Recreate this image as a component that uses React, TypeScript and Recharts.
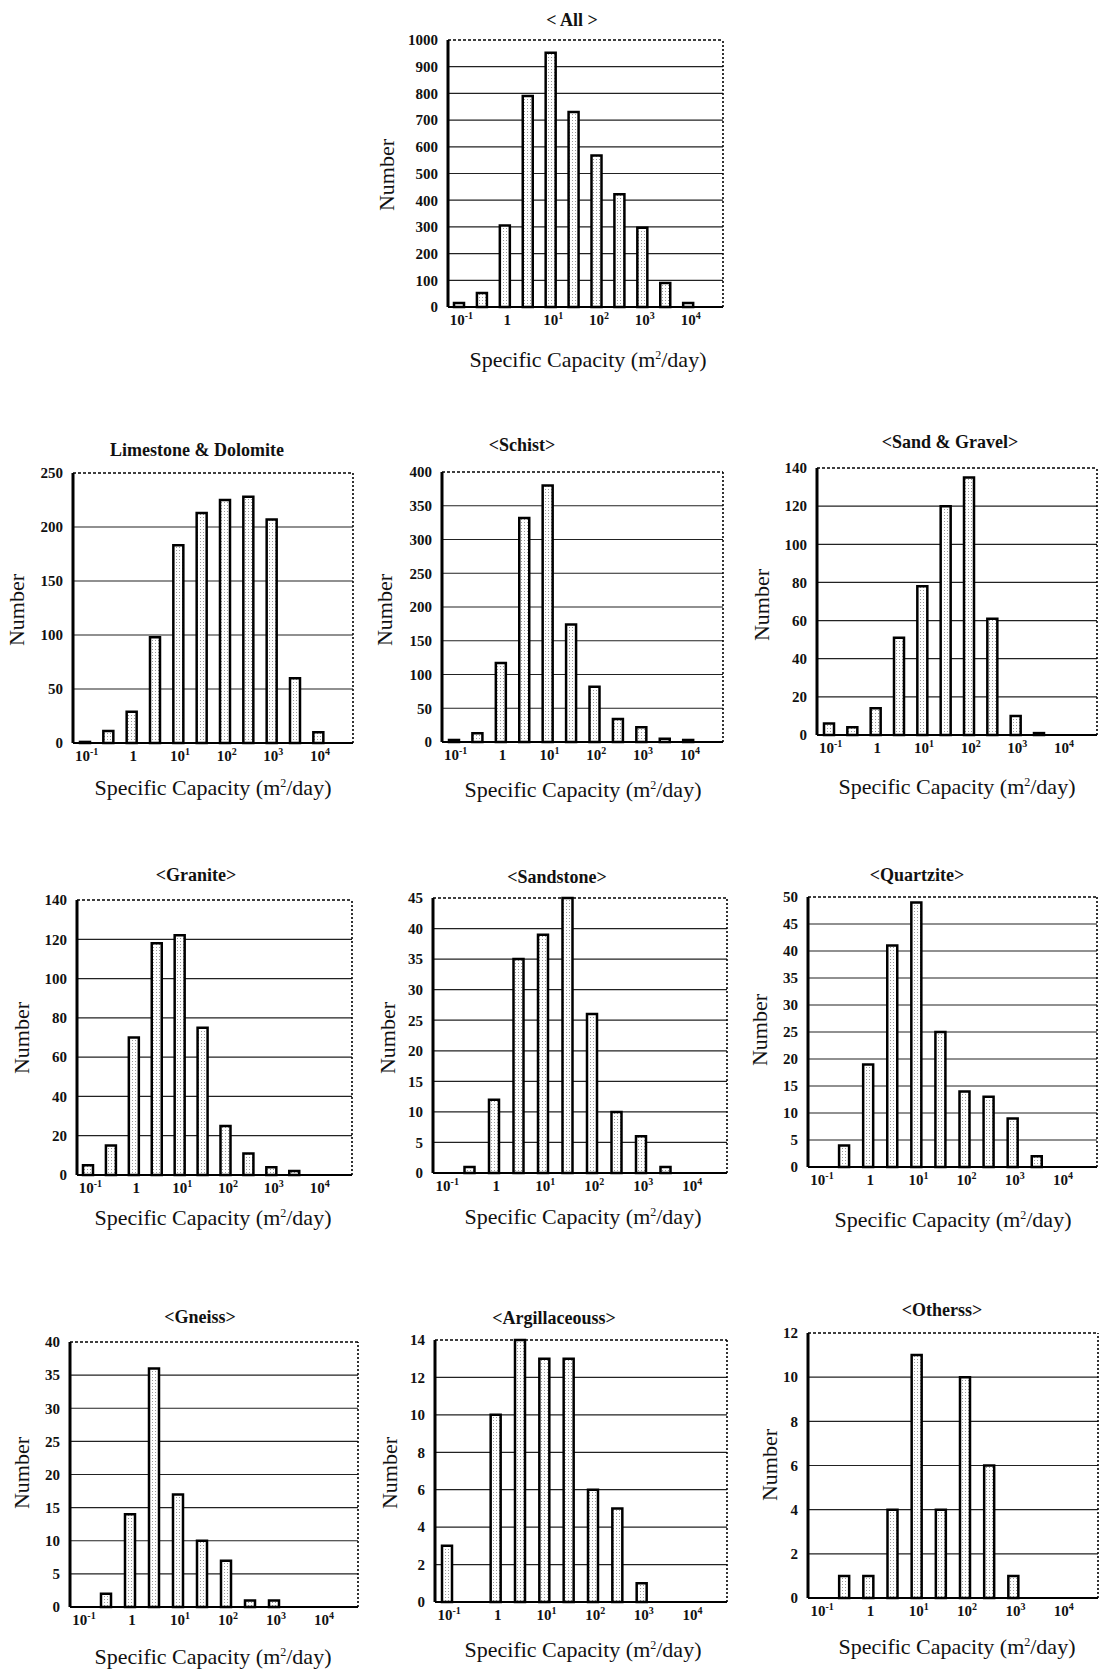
import React from 'react';
import { BarChart, Bar, XAxis, YAxis, CartesianGrid, ReferenceLine } from 'recharts';

const SERIF = "'Liberation Serif', 'Times New Roman', serif";

// half-decade bins of specific capacity (m²/day), 10^-1 .. 10^4.5
const binCenters = ['0.1', '0.32', '1', '3.2', '10', '32', '100', '320', '1000', '3200', '10000', '32000'];
// decade labels sit under every second bin
const decadeExponents = [-1, 0, 1, 2, 3, 4];

const allCounts = [15, 52, 305, 790, 952, 730, 567, 422, 297, 90, 15, 0];
const limestoneCounts = [1, 11, 29, 98, 183, 213, 225, 228, 207, 60, 10, 0];
const schistCounts = [3, 13, 117, 332, 380, 174, 82, 34, 22, 5, 3, 0];
const sandGravelCounts = [6, 4, 14, 51, 78, 120, 135, 61, 10, 1, 0, 0];
const graniteCounts = [5, 15, 70, 118, 122, 75, 25, 11, 4, 2, 0, 0];
const sandstoneCounts = [0, 1, 12, 35, 39, 45, 26, 10, 6, 1, 0, 0];
const quartziteCounts = [0, 4, 19, 41, 49, 25, 14, 13, 9, 2, 0, 0];
const gneissCounts = [0, 2, 14, 36, 17, 10, 7, 1, 1, 0, 0, 0];
const argillaceousCounts = [3, 0, 10, 14, 13, 13, 6, 5, 1, 0, 0, 0];
const othersCounts = [0, 1, 1, 4, 11, 4, 10, 6, 1, 0, 0, 0];

const allTicks = [0, 100, 200, 300, 400, 500, 600, 700, 800, 900, 1000];
const limestoneTicks = [0, 50, 100, 150, 200, 250];
const schistTicks = [0, 50, 100, 150, 200, 250, 300, 350, 400];
const sandGravelTicks = [0, 20, 40, 60, 80, 100, 120, 140];
const graniteTicks = [0, 20, 40, 60, 80, 100, 120, 140];
const sandstoneTicks = [0, 5, 10, 15, 20, 25, 30, 35, 40, 45];
const quartziteTicks = [0, 5, 10, 15, 20, 25, 30, 35, 40, 45, 50];
const gneissTicks = [0, 5, 10, 15, 20, 25, 30, 35, 40];
const argillaceousTicks = [0, 2, 4, 6, 8, 10, 12, 14];
const othersTicks = [0, 2, 4, 6, 8, 10, 12];

const AXIS_W = 50;
const TOP_M = 10;
const RIGHT_M = 3;
const AXIS_H = 30;

const DecadeTick = (props: any) => {
  const { x, y } = props;
  const index = props.index ?? props.payload?.index ?? 0;
  if (index % 2 !== 0) return <g />;
  const exp = decadeExponents[index / 2];
  return (
    <text x={x + 2} y={y + 18} textAnchor="middle" fontFamily={SERIF} fontSize={15} fontWeight="bold" fill="#111">
      {exp === 0 ? (
        '1'
      ) : (
        <>
          10
          <tspan dy={-6} fontSize={10}>{exp}</tspan>
        </>
      )}
    </text>
  );
};

interface PanelProps {
  id: string;
  title: string;
  counts: number[];
  ticks: number[];
  plot: [number, number, number, number];
  titleAt: [number, number];
  yTitleAt: [number, number];
  xTitleAt: [number, number];
}

const Panel: React.FC<PanelProps> = ({ id, title, counts, ticks, plot, titleAt, yTitleAt, xTitleAt }) => {
  const [x0, y0, x1, y1] = plot;
  const data = binCenters.map((bin, i) => ({ bin, count: counts[i] }));
  const top = ticks[ticks.length - 1];
  const lastBin = binCenters[binCenters.length - 1];

  return (
    <>
      <div style={{ position: 'absolute', left: titleAt[0], top: titleAt[1], transform: 'translate(-50%, -50%)', fontFamily: SERIF, fontSize: 18, fontWeight: 'bold', whiteSpace: 'nowrap', color: '#111' }}>
        {title}
      </div>
      <div style={{ position: 'absolute', left: x0 - AXIS_W, top: y0 - TOP_M }}>
        <BarChart
          width={x1 - x0 + AXIS_W + RIGHT_M}
          height={y1 - y0 + TOP_M + AXIS_H}
          data={data}
          margin={{ top: TOP_M, right: RIGHT_M, bottom: 0, left: 0 }}
          barSize={10}
        >
          <defs>
            <pattern id={`dots-${id}`} width={3} height={3} patternUnits="userSpaceOnUse">
              <rect width={3} height={3} fill="#fff" />
              <rect width={1} height={1} fill="#9a9a9a" />
            </pattern>
          </defs>
          <CartesianGrid
            vertical={false}
            stroke="#222"
            strokeWidth={1.2}
            horizontalCoordinatesGenerator={({ yAxis, offset }: any) =>
              ticks
                .filter((t) => t > 0 && t < top)
                .map((t) =>
                  yAxis && typeof yAxis.scale === 'function'
                    ? yAxis.scale(t)
                    : offset.top + offset.height * (1 - t / top)
                )
            }
          />
          <XAxis
            dataKey="bin"
            interval={0}
            tickLine={false}
            tickSize={0}
            tickMargin={0}
            height={AXIS_H}
            axisLine={{ stroke: '#000', strokeWidth: 2 }}
            tick={<DecadeTick />}
          />
          <YAxis
            domain={[0, top]}
            ticks={ticks}
            interval={0}
            width={AXIS_W}
            tickLine={false}
            tickSize={0}
            tickMargin={10}
            axisLine={{ stroke: '#000', strokeWidth: 3 }}
            tick={{ fontFamily: SERIF, fontSize: 15, fontWeight: 'bold', fill: '#111' }}
          />
          {/* dotted frame on the top and right edges */}
          <ReferenceLine y={top} ifOverflow="visible" stroke="#000" strokeWidth={1.6} strokeDasharray="3 2" />
          <ReferenceLine x={lastBin} position="end" ifOverflow="visible" stroke="#000" strokeWidth={1.6} strokeDasharray="2 2" />
          <Bar dataKey="count" fill={`url(#dots-${id})`} stroke="#000" strokeWidth={2.5} isAnimationActive={false} />
        </BarChart>
      </div>
      <div style={{ position: 'absolute', left: yTitleAt[0], top: yTitleAt[1], transform: 'translate(-50%, -50%) rotate(-90deg)', fontFamily: SERIF, fontSize: 22, whiteSpace: 'nowrap', color: '#111' }}>
        Number
      </div>
      <div style={{ position: 'absolute', left: xTitleAt[0], top: xTitleAt[1], transform: 'translate(-50%, -50%)', fontFamily: SERIF, fontSize: 22, whiteSpace: 'nowrap', color: '#111' }}>
        Specific Capacity (m<sup style={{ fontSize: 12 }}>2</sup>/day)
      </div>
    </>
  );
};

export default function App() {
  return (
    <div style={{ position: 'absolute', left: 0, top: 0, width: 1102, height: 1679, background: '#fff', overflow: 'hidden' }}>
      <Panel id="all" title="< All >" counts={allCounts} ticks={allTicks} plot={[448, 40, 723, 307]} titleAt={[572, 20]} yTitleAt={[387, 175]} xTitleAt={[588, 360]} />
      <Panel id="lime" title="Limestone & Dolomite" counts={limestoneCounts} ticks={limestoneTicks} plot={[73, 473, 353, 743]} titleAt={[197, 450]} yTitleAt={[17, 610]} xTitleAt={[213, 788]} />
      <Panel id="schist" title="<Schist>" counts={schistCounts} ticks={schistTicks} plot={[442, 472, 723, 742]} titleAt={[522, 445]} yTitleAt={[385, 610]} xTitleAt={[583, 790]} />
      <Panel id="sand" title="<Sand & Gravel>" counts={sandGravelCounts} ticks={sandGravelTicks} plot={[817, 468, 1097, 735]} titleAt={[950, 442]} yTitleAt={[762, 605]} xTitleAt={[957, 787]} />
      <Panel id="granite" title="<Granite>" counts={graniteCounts} ticks={graniteTicks} plot={[77, 900, 352, 1175]} titleAt={[196, 875]} yTitleAt={[22, 1038]} xTitleAt={[213, 1218]} />
      <Panel id="sandstone" title="<Sandstone>" counts={sandstoneCounts} ticks={sandstoneTicks} plot={[433, 898, 727, 1173]} titleAt={[557, 877]} yTitleAt={[388, 1038]} xTitleAt={[583, 1217]} />
      <Panel id="quartzite" title="<Quartzite>" counts={quartziteCounts} ticks={quartziteTicks} plot={[808, 897, 1097, 1167]} titleAt={[917, 875]} yTitleAt={[760, 1030]} xTitleAt={[953, 1220]} />
      <Panel id="gneiss" title="<Gneiss>" counts={gneissCounts} ticks={gneissTicks} plot={[70, 1342, 358, 1607]} titleAt={[200, 1317]} yTitleAt={[22, 1473]} xTitleAt={[213, 1657]} />
      <Panel id="argil" title="<Argillaceouss>" counts={argillaceousCounts} ticks={argillaceousTicks} plot={[435, 1340, 727, 1602]} titleAt={[554, 1318]} yTitleAt={[390, 1473]} xTitleAt={[583, 1650]} />
      <Panel id="others" title="<Otherss>" counts={othersCounts} ticks={othersTicks} plot={[808, 1333, 1098, 1598]} titleAt={[942, 1310]} yTitleAt={[770, 1465]} xTitleAt={[957, 1647]} />
    </div>
  );
}
